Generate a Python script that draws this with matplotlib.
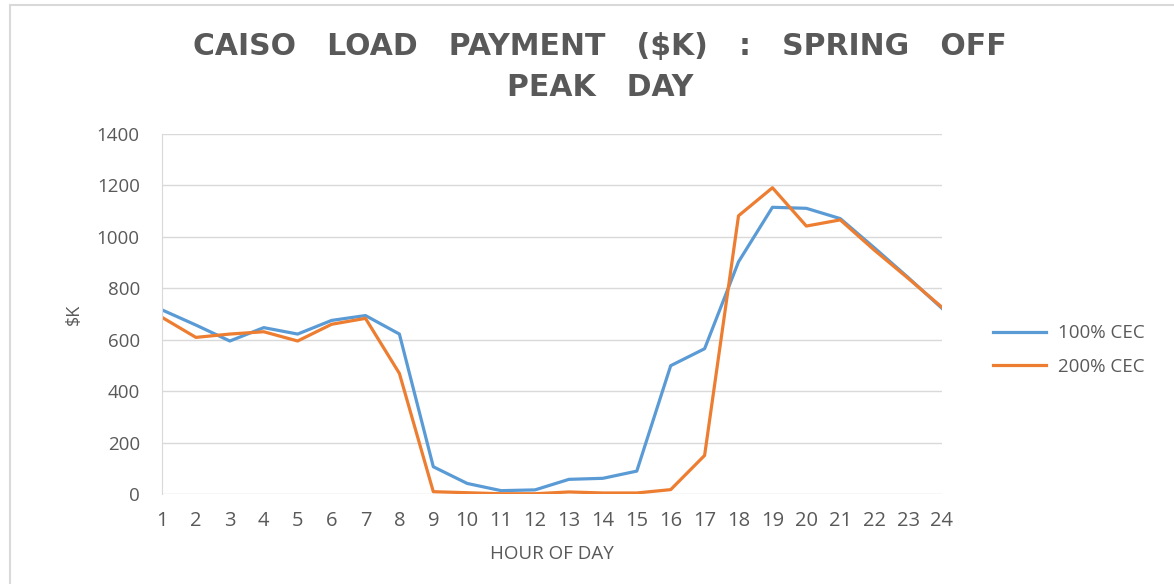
import matplotlib
matplotlib.use("Agg")
import matplotlib.pyplot as plt
from matplotlib.patches import Rectangle

# hour of day
hours = list(range(1, 25))

# load payment, $K
cec_100 = [716, 657, 595, 647, 622, 675, 694, 622, 106, 41, 13, 16,
           57, 61, 89, 499, 565, 903, 1115, 1111, 1071, 958, 842, 722]
cec_200 = [687, 609, 622, 631, 595, 660, 683, 469, 9, 5, 1, 1,
           8, 4, 4, 17, 150, 1082, 1191, 1042, 1066, 949, 839, 726]

series_names = ['100% CEC', '200% CEC']
y_ticks = [0, 200, 400, 600, 800, 1000, 1200, 1400]

txt = '#595959'
plt.rcParams['font.family'] = ['Open Sans', 'DejaVu Sans']

fig = plt.figure(figsize=(11.74, 5.84), dpi=100)
fig.patches.append(Rectangle((10/1174, -0.01), 1.2, 1 - 5/584 + 0.01,
                             transform=fig.transFigure, fill=False,
                             edgecolor='#D9D9D9', linewidth=1.5))

ax = fig.add_axes([162/1174, 1 - 494/584, (942-162)/1174, (494-134)/584])

l1, = ax.plot(hours, cec_100, color='#5B9BD5', linewidth=2.3, solid_joinstyle='round')
l2, = ax.plot(hours, cec_200, color='#ED7D31', linewidth=2.3, solid_joinstyle='round')

ax.set_xlim(1, 24)
ax.set_ylim(0, 1400)
ax.set_xticks(hours)
ax.set_yticks(y_ticks)
ax.set_xticklabels([str(h) for h in hours])
ax.yaxis.grid(True, color='#D9D9D9', linewidth=1)
ax.set_axisbelow(True)
for s in ['top', 'right', 'bottom']:
    ax.spines[s].set_visible(False)
ax.spines['left'].set_color('#D9D9D9')
ax.tick_params(axis='both', length=0, colors=txt, labelsize=13.5)
ax.tick_params(axis='x', pad=12)
ax.tick_params(axis='y', pad=16)
for lab in ax.get_xticklabels():
    lab.set_fontsize(14.5)

ax.set_xlabel('HOUR OF DAY', color=txt, fontsize=13.5, labelpad=10)
ax.set_ylabel('$K', color=txt, fontsize=13, labelpad=10)

fig.text(600/1174, 1 - 47/584, 'CAISO   LOAD   PAYMENT   (\\$K)   :   SPRING   OFF',
         ha='center', va='center', fontsize=21.5, fontweight='bold', color=txt,
         family='DejaVu Sans')
fig.text(600/1174, 1 - 88/584, 'PEAK   DAY', ha='center', va='center',
         fontsize=21.5, fontweight='bold', color=txt, family='DejaVu Sans')

fig.legend([l1, l2], series_names, loc='center left',
           bbox_to_anchor=(993/1174, 1 - 350/584), frameon=False,
           borderpad=0, borderaxespad=0,
           fontsize=13.5, labelcolor=txt, handlelength=2.8,
           handletextpad=0.65, labelspacing=0.8)

fig.savefig('out.png', dpi=100)
